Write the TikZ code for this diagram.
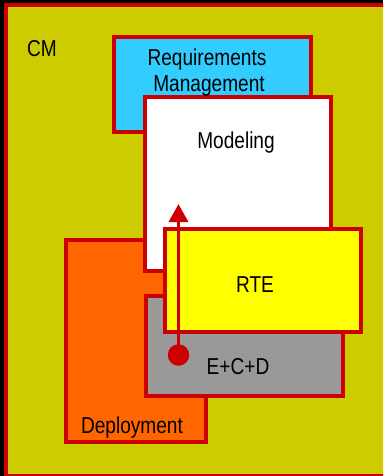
\documentclass[tikz,border=0pt]{standalone}
\usepackage{fontspec}
\setmainfont{Liberation Sans}[FakeStretch=0.83]
\usetikzlibrary{arrows.meta}
\definecolor{olive}{HTML}{CCCC00}
\definecolor{bred}{HTML}{CC0000}
\definecolor{rcyan}{HTML}{33CCFF}
\definecolor{rorange}{HTML}{FF6600}
\definecolor{rgray}{HTML}{999999}
\definecolor{ryellow}{HTML}{FFFF00}
\tikzset{
  box/.style={draw=bred, line width=4pt, rectangle, inner sep=0pt, outer sep=0pt},
  lbl/.style={font=\fontsize{23}{26}\selectfont, anchor=base, inner sep=0pt, text=black},
}
\begin{document}
\begin{tikzpicture}[x=1pt,y=-1pt]
\useasboundingbox (0,0) rectangle (383,476);
\fill[black] (0,0) rectangle (383,476);
\clip (0,0) rectangle (383,476);
\node[box, fill=olive, minimum width=394pt, minimum height=470.5pt, anchor=north west] (cm) at (6,5) {};
\node[box, fill=rcyan, minimum width=197pt, minimum height=94pt] (req) at (212,84.5) {};
\node[box, fill=rorange, minimum width=140pt, minimum height=202pt] (dep) at (135.5,340.5) {};
\node[box, fill=white, minimum width=186pt, minimum height=173pt] (mod) at (237.5,184) {};
\node[box, fill=rgray, minimum width=197pt, minimum height=100pt] (ecd) at (244,345.5) {};
\node[box, fill=ryellow, minimum width=196pt, minimum height=103pt] (rte) at (262.5,280) {};
\node[lbl] (cmt) at (42,57) {CM};
\node[lbl] (reqt1) at (207,66) {Requirements};
\node[lbl] (reqt2) at (209,92) {Management};
\node[lbl] (modt) at (236,148) {Modeling};
\node[lbl] (rtet) at (255,292) {RTE};
\node[lbl] (ecdt) at (238,374) {E+C+D};
\node[lbl] (dept) at (132,433) {Deployment};
\node[circle, fill=bred, minimum size=21.5pt, inner sep=0pt] (dot) at (178.5,355) {};
\coordinate (tip) at (178.5,204);
\draw[bred, line width=3.5pt, -{Triangle[width=19pt,length=18pt]}] (dot.center) -- (tip);
\end{tikzpicture}
\end{document}
